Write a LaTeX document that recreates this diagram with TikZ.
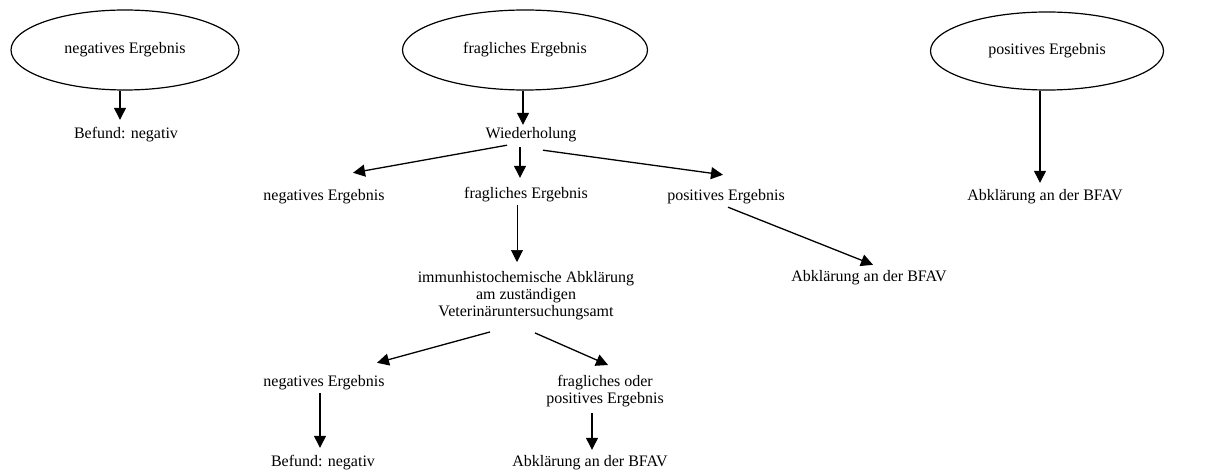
\documentclass[tikz,border=0pt]{standalone}
\usepackage{fontspec}
\setmainfont{Liberation Serif}
\usetikzlibrary{shapes.geometric,arrows.meta,calc}
\begin{document}
\begin{tikzpicture}[x=1pt,y=1pt,
  every node/.style={font=\fontsize{16}{17}\selectfont},
  oval/.style={draw,ellipse,line width=1.2pt,inner sep=0pt},
  lbl/.style={inner sep=0pt,text height=11pt,text depth=3pt},
  multi/.style={inner sep=0pt,align=center},
  arr/.style={line width=1.3pt,-{Triangle[width=12pt,length=12pt]}},
  thinarr/.style={line width=0.6pt,-{Triangle[width=12pt,length=12pt]}}]
\useasboundingbox (0,0) rectangle (1213,472);
% top row
\node[oval,minimum width=228pt,minimum height=80pt] (e1) at (125,422) {negatives Ergebnis};
\node[oval,minimum width=245pt,minimum height=80pt] (e2) at (525,422) {fragliches Ergebnis};
\node[oval,minimum width=233pt,minimum height=78pt] (e3) at (1047,421) {positives Ergebnis};
% left column
\node[lbl] (bef1) at (126,337) {Befund: negativ};
% middle
\node[lbl] (w) at (531,337) {Wiederholung};
\node[lbl] (n2) at (324,275) {negatives Ergebnis};
\node[lbl] (f2) at (526,277) {fragliches Ergebnis};
\node[lbl] (p2) at (726,275) {positives Ergebnis};
\node[lbl] (abk2) at (869,195) {Abklärung an der BFAV};
\node[multi,anchor=north] (imm) at (526,201) {immunhistochemische Abklärung\\am zuständigen\\Veterinäruntersuchungsamt};
\node[lbl] (n3) at (324,90) {negatives Ergebnis};
\node[multi,anchor=north] (fp) at (605,97) {fragliches oder\\positives Ergebnis};
\node[lbl] (bef3) at (323,10) {Befund: negativ};
\node[lbl] (abk3) at (590,10) {Abklärung an der BFAV};
% right
\node[lbl] (abk1) at (1045,275) {Abklärung an der BFAV};
% connectors
\draw[arr] ([xshift=-5pt]e1.south) -- ([xshift=-6pt,yshift=8pt]bef1.north);
\draw[arr] ([xshift=-2pt]e2.south) -- ([xshift=-8pt,yshift=3pt]w.north);
\draw[arr] ($(w.south)+(-24,-3)$) -- ($(n2.north)+(29,17)$);
\draw[arr] ($(w.south)+(-11,-5)$) -- ($(f2.north)+(-6,10)$);
\draw[arr] ($(w.south)+(12,-8)$) -- ($(p2.north)+(-3,15)$);
\draw[arr] ($(p2.south)+(2,-3)$) -- ($(abk2.north)+(4,5)$);
\draw[thinarr] ($(f2.south)+(-9,-3)$) -- ($(imm.north)+(-9,9)$);
\draw[arr] ($(imm.south)+(-36,-12)$) -- ($(n3.north)+(53,12)$);
\draw[arr] ($(imm.south)+(9,-13)$) -- ($(fp.north)+(3,10)$);
\draw[arr] ($(n3.south)+(-4,-4)$) -- ($(bef3.north)+(-3,7)$);
\draw[arr] ($(fp.south)+(-13,-6)$) -- ($(abk3.north)+(2,5)$);
\draw[arr] ([xshift=-7pt]e3.south) -- ([xshift=-5pt,yshift=7pt]abk1.north);
\end{tikzpicture}
\end{document}
